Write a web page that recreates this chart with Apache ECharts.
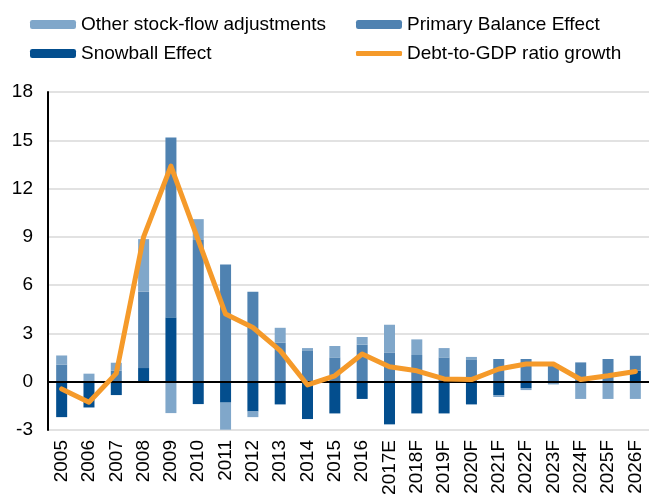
<html>
<head>
<meta charset="utf-8">
<script src="https://cdn.jsdelivr.net/npm/echarts@6/dist/echarts.min.js"></script>
<style>
  html, body { margin: 0; padding: 0; background: #fff; }
  #main { width: 649px; height: 495px; }
</style>
</head>
<body>
<div id="main"></div>
<script type="text/javascript">
    // categories + values
    var years = ['2005', '2006', '2007', '2008', '2009', '2010', '2011', '2012', '2013', '2014', '2015',
        '2016', '2017E', '2018F', '2019F', '2020F', '2021F', '2022F', '2023F', '2024F', '2025F', '2026F'];
    var snowball = [-2.2, -1.6, -0.83, 0.85, 4.0, -1.39, -1.3, -1.85, -1.41, -2.32, -1.97,
        -1.07, -2.65, -1.97, -1.97, -1.41, -0.83, -0.39, 0, 0, 0, 0.68];
    var primary = [1.07, 0, 0.68, 4.74, 11.17, 8.8, 7.29, 5.59, 2.42, 1.95, 1.51,
        2.3, 1.82, 1.66, 1.51, 1.39, 1.41, 1.41, 1.1, 1.2, 1.41, 0.93];
    var other = [0.56, 0.5, 0.5, 3.27, -1.95, 1.3, -1.68, -0.35, 0.93, 0.14, 0.71,
        0.48, 1.72, 0.97, 0.58, 0.15, -0.12, -0.13, -0.17, -1.07, -1.07, -1.07];
    var debtGrowth = [-0.45, -1.28, 0.52, 9.0, 13.4, 8.8, 4.2, 3.37, 1.93, -0.2, 0.37,
        1.72, 0.93, 0.68, 0.17, 0.13, 0.79, 1.1, 1.1, 0.14, 0.37, 0.64];

    var fontFam = "'Liberation Sans', Arial, sans-serif";
    var legendText = { fontFamily: fontFam, fontSize: 19, color: '#000', lineHeight: 19 };

    var myChart = echarts.init(document.getElementById('main'));
    var option = {
        animation: false,
        legend: [
            {
                left: 30, top: 15, orient: 'vertical', padding: 0,
                itemWidth: 46, itemHeight: 9, itemGap: 10,
                textStyle: legendText,
                data: ['Other stock-flow adjustments', 'Snowball Effect']
            },
            {
                left: 356, top: 15, orient: 'vertical', padding: 0,
                itemWidth: 46, itemHeight: 9,
                textStyle: legendText,
                data: ['Primary Balance Effect']
            },
            {
                left: 356, top: 44, orient: 'vertical', padding: 0,
                itemWidth: 46, itemHeight: 5,
                textStyle: legendText,
                data: [{ name: 'Debt-to-GDP ratio growth', icon: 'roundRect' }]
            }
        ],
        grid: {
            left: 48, right: 0, top: 92, bottom: 65,
            containLabel: false, outerBoundsMode: 'none'
        },
        xAxis: {
            type: 'category',
            data: years,
            axisLine: { show: false, onZero: false },
            axisTick: { show: false },
            axisLabel: {
                rotate: 90, margin: 10, interval: 0,
                fontFamily: fontFam, fontSize: 19, color: '#000'
            }
        },
        yAxis: {
            type: 'value',
            min: -3, max: 18, interval: 3,
            axisLine: { show: true, lineStyle: { color: '#000', width: 2 } },
            axisTick: { show: false },
            axisLabel: { margin: 15, fontFamily: fontFam, fontSize: 19, color: '#000' },
            splitLine: { lineStyle: { color: '#D9D9D9', width: 1.5 } }
        },
        series: [
            {
                name: 'Snowball Effect', type: 'bar', stack: 'd', barWidth: 11,
                itemStyle: { color: '#034E8E' },
                data: snowball
            },
            {
                name: 'Primary Balance Effect', type: 'bar', stack: 'd', barWidth: 11,
                itemStyle: { color: '#4F82B1' },
                data: primary
            },
            {
                name: 'Other stock-flow adjustments', type: 'bar', stack: 'd', barWidth: 11,
                itemStyle: { color: '#80A7CA' },
                data: other
            },
            {
                // zero line across the full plot
                name: 'zero', type: 'line', data: [], z: 3,
                markLine: {
                    silent: true, symbol: ['none', 'none'],
                    label: { show: false },
                    lineStyle: { color: '#000', width: 2, type: 'solid' },
                    data: [{ yAxis: 0 }]
                }
            },
            {
                name: 'Debt-to-GDP ratio growth', type: 'line', z: 5,
                symbol: 'none',
                itemStyle: { color: '#F59A2A' },
                lineStyle: { color: '#F59A2A', width: 5, cap: 'round', join: 'round' },
                data: debtGrowth
            }
        ]
    };
    myChart.setOption(option);
</script>
</body>
</html>
